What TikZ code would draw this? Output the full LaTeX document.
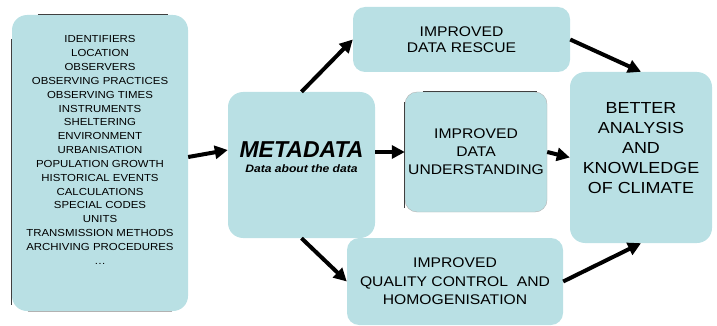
\documentclass[tikz,border=0pt]{standalone}
\usepackage{fontspec}
\setmainfont{Liberation Sans}[FakeStretch=1.12]
\newfontfamily\metafont{Liberation Sans}
\usetikzlibrary{arrows.meta}
\definecolor{boxblue}{RGB}{185,224,228}

\begin{document}
\begin{tikzpicture}[x=1pt, y=-1pt,
box/.style={fill=boxblue, rounded corners=12pt, inner sep=0pt, align=center},
txt/.style={inner sep=0pt, align=center},
flow/.style={line width=4pt, -{Triangle[length=13pt, width=13pt]}},
rim/.style={black!75, line width=0.8pt}]
\useasboundingbox (0,0) rectangle (717,326);
% Sources of metadata
\node[box, minimum width=176pt, minimum height=296pt, rounded corners=15pt] (src) at (100,163) {};
\draw[rim] ([yshift=-24pt]src.north west) -- ([yshift=6pt]src.south west);
\draw[rim] ([xshift=26pt]src.north west) -- ([xshift=-20pt]src.north east);
\draw[gray!60] ([xshift=16pt]src.south west) -- ([xshift=-16pt]src.south east);
\node[txt, font=\fontsize{10.2}{13.85}\selectfont] (srclist) at ([yshift=13pt]src.center)
{IDENTIFIERS\\LOCATION\\OBSERVERS\\OBSERVING PRACTICES\\OBSERVING TIMES\\
INSTRUMENTS\\SHELTERING\\ENVIRONMENT\\URBANISATION\\POPULATION GROWTH\\
HISTORICAL EVENTS\\CALCULATIONS\\SPECIAL CODES\\UNITS\\TRANSMISSION METHODS\\
ARCHIVING PROCEDURES\\\dots};
% Metadata
\node[box, minimum width=147pt, minimum height=146pt, rounded corners=15pt] (meta) at (301.5,165) {};
\node[txt] (metatxt) at ([yshift=8pt]meta.center)
{{\metafont\bfseries\itshape\fontsize{23}{26}\selectfont METADATA}\\[3pt]
{\bfseries\itshape\fontsize{10.8}{12}\selectfont Data\ about the data}};
% Improvements
\node[box, minimum width=217pt, minimum height=65pt, font=\fontsize{14}{16.5}\selectfont] (rescue) at (461.5,39.5)
{IMPROVED\\DATA RESCUE};
\node[box, draw=gray!60, minimum width=142pt, minimum height=120pt, font=\fontsize{14}{18}\selectfont] (under) at (476,152)
{IMPROVED\\DATA\\UNDERSTANDING};
\draw[rim] ([yshift=-10pt]under.north west) -- ([yshift=4pt]under.south west);
\draw[rim] ([xshift=18pt]under.north west) -- ([xshift=-10pt]under.north east);
\node[box, minimum width=216pt, minimum height=87pt, font=\fontsize{14}{18.5}\selectfont] (qual) at (455,281.5)
{IMPROVED\\QUALITY CONTROL\ \ AND\\HOMOGENISATION};
% Outcome
\node[box, minimum width=142pt, minimum height=171pt, rounded corners=15pt] (better) at (641,157.5) {};
\node[txt, font=\fontsize{16}{20}\selectfont] (bettertxt) at ([yshift=9pt]better.center)
{BETTER\\ANALYSIS\\AND\\KNOWLEDGE\\OF CLIMATE};
% Arrows
\draw[flow] ([yshift=6pt]src.east) -- ([yshift=15pt]meta.west);
\draw[flow] (meta.north) -- (rescue.west);
\draw[flow] ([yshift=13pt]meta.east) -- (under.west);
\draw[flow] (meta.south) -- (qual.west);
\draw[flow] (rescue.east) -- (better.north);
\draw[flow] (under.east) -- (better.west);
\draw[flow] (qual.east) -- (better.south);
\end{tikzpicture}
\end{document}
